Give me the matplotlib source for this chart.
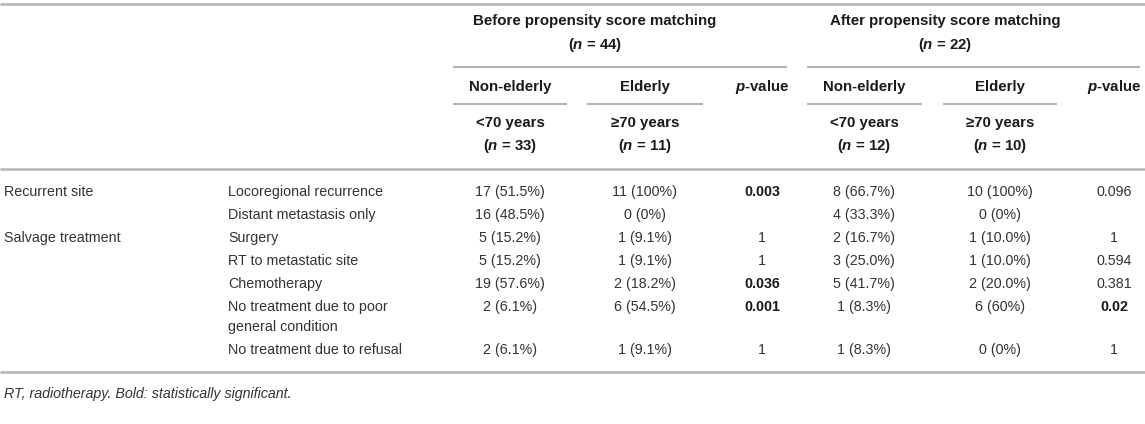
import matplotlib
matplotlib.use("Agg")
import matplotlib.pyplot as plt

plt.rcParams['font.family'] = ['Liberation Sans', 'DejaVu Sans']
plt.rcParams['mathtext.fontset'] = 'custom'
plt.rcParams['mathtext.it'] = 'Liberation Sans:italic:bold'
plt.rcParams['mathtext.rm'] = 'Liberation Sans:bold'

# table contents
group_titles = ["Before propensity score matching", "After propensity score matching"]
group_n = ["44", "22"]
arm_names = ["Non-elderly", "Elderly"]
arm_ages = ["<70 years", "\u226570 years"]
arm_n = [["33", "11"], ["12", "10"]]

sections = ["Recurrent site", "Salvage treatment"]
section_of_row = [0, 0, 1, 1, 1, 1, 1]
items = ["Locoregional recurrence", "Distant metastasis only", "Surgery",
         "RT to metastatic site", "Chemotherapy",
         "No treatment due to poor\ngeneral condition", "No treatment due to refusal"]
before_young = ["17 (51.5%)", "16 (48.5%)", "5 (15.2%)", "5 (15.2%)", "19 (57.6%)", "2 (6.1%)", "2 (6.1%)"]
before_old = ["11 (100%)", "0 (0%)", "1 (9.1%)", "1 (9.1%)", "2 (18.2%)", "6 (54.5%)", "1 (9.1%)"]
before_p = ["0.003", "", "1", "1", "0.036", "0.001", "1"]
after_young = ["8 (66.7%)", "4 (33.3%)", "2 (16.7%)", "3 (25.0%)", "5 (41.7%)", "1 (8.3%)", "1 (8.3%)"]
after_old = ["10 (100%)", "0 (0%)", "1 (10.0%)", "1 (10.0%)", "2 (20.0%)", "6 (60%)", "0 (0%)"]
after_p = ["0.096", "", "1", "0.594", "0.381", "0.02", "1"]
footnote = "RT, radiotherapy. Bold: statistically significant."

W, H = 1145, 424
fig = plt.figure(figsize=(W / 100, H / 100), dpi=100)
ax = fig.add_axes([0, 0, 1, 1])
ax.set_xlim(0, W)
ax.set_ylim(H, 0)
ax.axis('off')

FS = 10.3
FH = 10.8
TXT = '#333333'
HEAD = '#1a1a1a'
LINE = '#b4b4b4'

col_center = [[510, 645, 762], [864, 1000, 1114]]
group_center = [595, 945]
group_span = [(453, 787), (807, 1140)]
arm_span = [[(453, 567), (587, 703)], [(807, 922), (943, 1057)]]


def hline(y, x0, x1, lw=1.5):
    ax.plot([x0, x1], [y, y], color=LINE, lw=lw, solid_capstyle='butt')


# header
hline(4, 0, W, 1.8)
for g in range(2):
    ax.text(group_center[g], 21, group_titles[g], ha='center', va='center',
            fontsize=FH, fontweight='bold', color=HEAD)
    ax.text(group_center[g], 45, "($n$ = %s)" % group_n[g], ha='center', va='center',
            fontsize=FH, fontweight='bold', color=HEAD)
    hline(67, *group_span[g])
    for a in range(2):
        cx = col_center[g][a]
        ax.text(cx, 87, arm_names[a], ha='center', va='center',
                fontsize=FH, fontweight='bold', color=HEAD)
        hline(104, *arm_span[g][a])
        ax.text(cx, 123, arm_ages[a], ha='center', va='center',
                fontsize=FH, fontweight='bold', color=HEAD)
        ax.text(cx, 146, "($n$ = %s)" % arm_n[g][a], ha='center', va='center',
                fontsize=FH, fontweight='bold', color=HEAD)
    ax.text(col_center[g][2], 87, "$p$-value", ha='center', va='center',
            fontsize=FH, fontweight='bold', color=HEAD)
hline(169, 0, W, 1.8)

# body
pitch = 23
y = 192
cols = [(before_young, before_old, before_p), (after_young, after_old, after_p)]
shown = set()
for i, item in enumerate(items):
    s = section_of_row[i]
    if s not in shown:
        ax.text(4, y, sections[s], ha='left', va='center', fontsize=FS, color=TXT)
        shown.add(s)
    lines = item.split("\n")
    for k, ln in enumerate(lines):
        ax.text(228, y + k * 20, ln, ha='left', va='center', fontsize=FS, color=TXT)
    for g in range(2):
        young, old, pv = cols[g]
        ax.text(col_center[g][0], y, young[i], ha='center', va='center', fontsize=FS, color=TXT)
        ax.text(col_center[g][1], y, old[i], ha='center', va='center', fontsize=FS, color=TXT)
        if pv[i]:
            bold = float(pv[i]) < 0.05
            ax.text(col_center[g][2], y, pv[i], ha='center', va='center', fontsize=FS,
                    color=HEAD if bold else TXT, fontweight='bold' if bold else 'normal')
    y += pitch + (len(lines) - 1) * 20

bottom = y - pitch + 22
hline(bottom, 0, W, 1.8)
ax.text(4, bottom + 22, footnote, ha='left', va='center', fontsize=FS,
        style='italic', color=TXT)

fig.savefig("out.png", dpi=100, facecolor='white')
